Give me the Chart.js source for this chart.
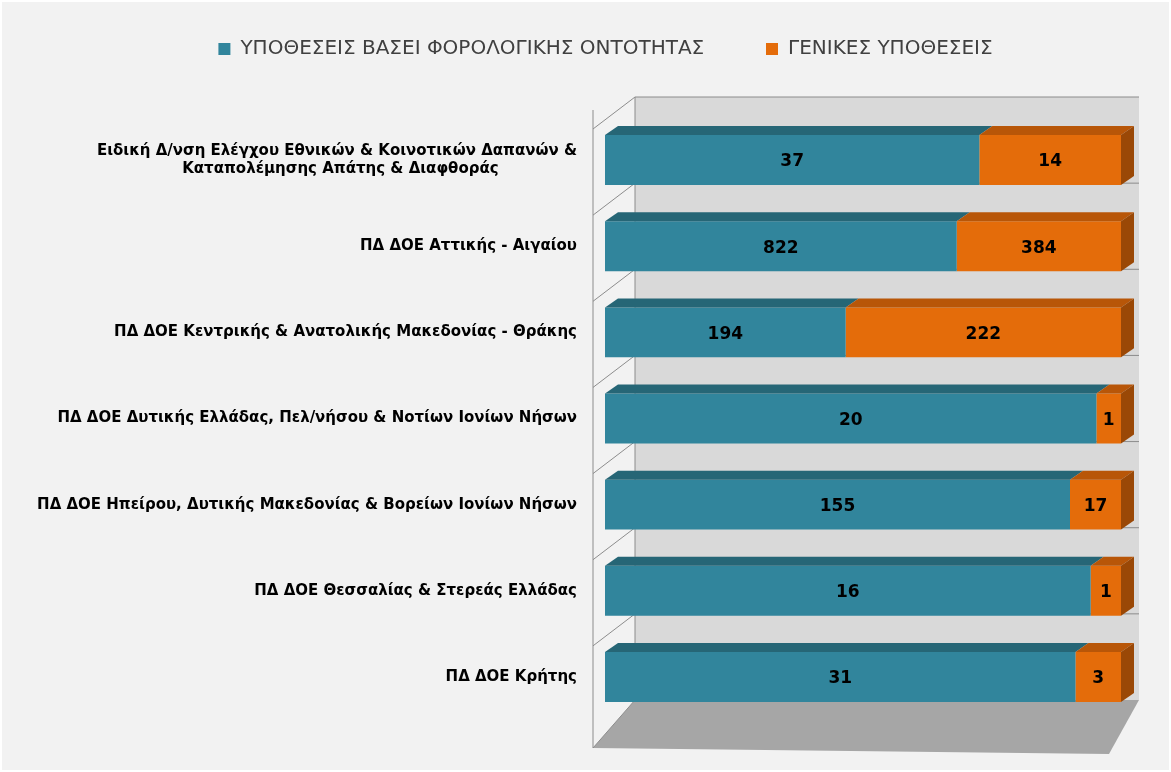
<!DOCTYPE html>
<html>
<head>
<meta charset="utf-8">
<script src="https://cdn.jsdelivr.net/npm/chart.js@4.4.1/dist/chart.umd.min.js"></script>
<style>
  html, body { margin: 0; padding: 0; background: #ffffff; }
  #wrap { position: absolute; left: 2px; top: 2px; width: 1167px; height: 768px; background: #f2f2f2; }
</style>
</head>
<body>
<div id="wrap"><canvas id="chart"></canvas></div>
<script>
// Κατηγορίες και τιμές
const categories = [
    ['Ειδική Δ/νση Ελέγχου Εθνικών & Κοινοτικών Δαπανών &', 'Καταπολέμησης Απάτης & Διαφθοράς'],
    'ΠΔ ΔΟΕ Αττικής - Αιγαίου',
    'ΠΔ ΔΟΕ Κεντρικής & Ανατολικής Μακεδονίας - Θράκης',
    'ΠΔ ΔΟΕ Δυτικής Ελλάδας, Πελ/νήσου & Νοτίων Ιονίων Νήσων',
    'ΠΔ ΔΟΕ Ηπείρου, Δυτικής Μακεδονίας & Βορείων Ιονίων Νήσων',
    'ΠΔ ΔΟΕ Θεσσαλίας & Στερεάς Ελλάδας',
    'ΠΔ ΔΟΕ Κρήτης'
];
const entityCases = [37, 822, 194, 20, 155, 16, 31];
const generalCases = [14, 384, 222, 1, 17, 1, 3];
const seriesNames = ['ΥΠΟΘΕΣΕΙΣ ΒΑΣΕΙ ΦΟΡΟΛΟΓΙΚΗΣ ΟΝΤΟΤΗΤΑΣ', 'ΓΕΝΙΚΕΣ ΥΠΟΘΕΣΕΙΣ'];

// 100% στοίβαξη
const totals = entityCases.map((v, i) => v + generalCases[i]);
const entityPct = entityCases.map((v, i) => v / totals[i] * 100);
const generalPct = generalCases.map((v, i) => v / totals[i] * 100);

const TEAL = '#31859c', TEAL_TOP = '#266676';
const ORANGE = '#e46c0a', ORANGE_TOP = '#b85608', ORANGE_SIDE = '#9a4806';
const DX = 13, DY = -9;          // βάθος ράβδων
const BX = 30, BY = -20;         // πίσω τοίχος

function shadeRect(ctx, pts, fill) {
    ctx.beginPath();
    ctx.moveTo(pts[0][0], pts[0][1]);
    for (let i = 1; i < pts.length; i++) ctx.lineTo(pts[i][0], pts[i][1]);
    ctx.closePath();
    ctx.fillStyle = fill;
    ctx.fill();
}

// Τοίχοι / δάπεδο πίσω από τις ράβδους
const wallsPlugin = {
    id: 'walls',
    afterLayout(chart) {
        // το υπόμνημα λίγο δεξιότερα, όπως στο πρωτότυπο
        chart.legend.left += 34;
        chart.legend.right += 34;
    },
    beforeDatasetsDraw(chart) {
        const ctx = chart.ctx;
        const a = chart.chartArea;
        const y = chart.scales.y;
        const step = y.getPixelForValue(1) - y.getPixelForValue(0);
        const fl = a.left - 12, fb = a.bottom + 28;
        const bl = a.left + BX, br = a.right + BX - 12, bt = a.top + BY, bb = a.bottom + BY;
        ctx.save();
        // πίσω τοίχος
        ctx.fillStyle = '#d9d9d9';
        ctx.fillRect(bl, bt, br - bl, bb - bt);
        // δάπεδο
        shadeRect(ctx, [[fl, fb], [bl, bb], [br, bb], [br - 30, fb + 6]], '#a6a6a6');
        ctx.strokeStyle = '#8c8c8c';
        ctx.lineWidth = 1;
        // γραμμές πλέγματος
        for (let i = 0; i <= categories.length; i++) {
            const py = y.getPixelForValue(0) - step / 2 + i * step;
            if (i < categories.length) {
                ctx.beginPath();
                ctx.moveTo(bl, py + BY);
                ctx.lineTo(br, py + BY);
                ctx.stroke();
            }
            ctx.beginPath();
            ctx.moveTo(fl, i === categories.length ? fb : py + 12);
            ctx.lineTo(bl, py + BY);
            ctx.stroke();
        }
        // ακμές
        ctx.beginPath();
        ctx.moveTo(fl, a.top - 7);
        ctx.lineTo(fl, fb);
        ctx.moveTo(bl, bt);
        ctx.lineTo(bl, bb);
        ctx.stroke();
        ctx.restore();
    }
};

// Πάνω και πλάγια όψη + ετικέτες τιμών
const depthPlugin = {
    id: 'depth',
    afterDatasetsDraw(chart) {
        const ctx = chart.ctx;
        const last = chart.data.datasets.length - 1;
        ctx.save();
        chart.data.datasets.forEach((ds, di) => {
            const meta = chart.getDatasetMeta(di);
            meta.data.forEach((bar, i) => {
                const t = bar.y - bar.height / 2, b = bar.y + bar.height / 2;
                const x0 = Math.min(bar.base, bar.x), x1 = Math.max(bar.base, bar.x);
                shadeRect(ctx, [[x0, t], [x1, t], [x1 + DX, t + DY], [x0 + DX, t + DY]], di === 0 ? TEAL_TOP : ORANGE_TOP);
                if (di === last) {
                    shadeRect(ctx, [[x1, t], [x1 + DX, t + DY], [x1 + DX, b + DY], [x1, b]], ORANGE_SIDE);
                }
            });
        });
        ctx.font = 'bold 17px "DejaVu Sans", sans-serif';
        ctx.fillStyle = '#000000';
        ctx.textAlign = 'center';
        ctx.textBaseline = 'middle';
        const raw = [entityCases, generalCases];
        chart.data.datasets.forEach((ds, di) => {
            chart.getDatasetMeta(di).data.forEach((bar, i) => {
                ctx.fillText(String(raw[di][i]), (bar.base + bar.x) / 2, bar.y + 2);
            });
        });
        ctx.restore();
    }
};

new Chart(document.getElementById('chart'), {
    type: 'bar',
    data: {
        labels: categories,
        datasets: [
            { label: seriesNames[0], data: entityPct, backgroundColor: TEAL },
            { label: seriesNames[1], data: generalPct, backgroundColor: ORANGE }
        ]
    },
    options: {
        indexAxis: 'y',
        responsive: true,
        maintainAspectRatio: false,
        animation: false,
        categoryPercentage: 1,
        barPercentage: 0.58,
        layout: { padding: { left: 20, right: 48, top: 7, bottom: 50 } },
        plugins: {
            legend: {
                position: 'top',
                labels: {
                    boxWidth: 12,
                    boxHeight: 12,
                    padding: 30,
                    color: '#404040',
                    font: { family: '"DejaVu Sans", sans-serif', size: 20 },
                    generateLabels(chart) {
                        const items = Chart.defaults.plugins.legend.labels.generateLabels(chart);
                        items[0].text += '     ';
                        return items;
                    }
                }
            },
            tooltip: { enabled: false }
        },
        scales: {
            x: {
                stacked: true, min: 0, max: 100,
                position: 'top',
                grid: { display: false },
                border: { display: false },
                ticks: { display: false },
                afterFit(scale) { scale.height = 48; }
            },
            y: {
                stacked: true,
                grid: { display: false },
                border: { display: false },
                afterFit(scale) { scale.width = 583; },
                ticks: {
                    color: '#000000',
                    padding: 20,
                    font: { family: '"DejaVu Sans", sans-serif', size: 15, weight: 'bold' },
                    callback(value) {
                        const l = this.getLabelForValue(value);
                        return value === 0 ? [categories[0][0], categories[0][1] + ' '.repeat(15)] : l;
                    }
                }
            }
        }
    },
    plugins: [wallsPlugin, depthPlugin]
});
</script>
</body>
</html>
